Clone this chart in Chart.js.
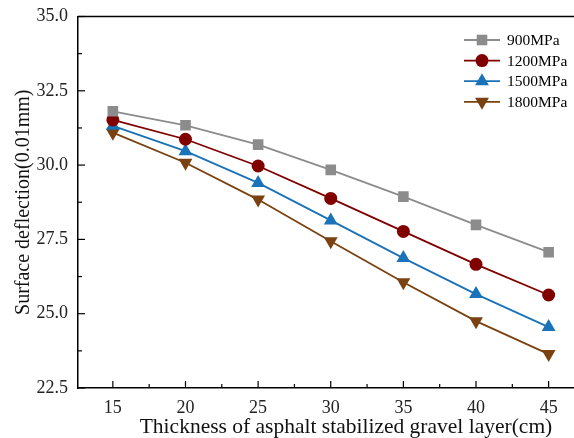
<!DOCTYPE html>
<html>
<head>
<meta charset="utf-8">
<script src="https://cdn.jsdelivr.net/npm/chart.js@4.4.0/dist/chart.umd.min.js"></script>
<style>
  html, body { margin: 0; padding: 0; background: #fff; overflow: hidden; }
  #wrap { width: 574px; height: 438px; overflow: hidden; }
</style>
</head>
<body>
<div id="wrap"><canvas id="chart" width="630" height="438"></canvas></div>
<script>
// Thickness values (cm) and deflection readings per modulus
const thickness = [15, 20, 25, 30, 35, 40, 45];
const seriesNames = ["900MPa", "1200MPa", "1500MPa", "1800MPa"];
const defl900 = [31.81, 31.34, 30.69, 29.84, 28.94, 27.99, 27.07];
const defl1200 = [31.52, 30.87, 29.97, 28.88, 27.77, 26.66, 25.63];
const defl1500 = [31.32, 30.47, 29.40, 28.14, 26.87, 25.66, 24.55];
const defl1800 = [31.09, 30.08, 28.84, 27.44, 26.06, 24.75, 23.64];
const xTicks = [15, 20, 25, 30, 35, 40, 45];
const yTicks = [22.5, 25.0, 27.5, 30.0, 32.5, 35.0];

const colors = ["#8c8c8c", "#800000", "#1a72b8", "#7a4210"];
const styles = [
    { pointStyle: "rect", radius: 7.5, rotation: 0 },
    { pointStyle: "circle", radius: 6.5, rotation: 0 },
    { pointStyle: "triangle", radius: 8, rotation: 0 },
    { pointStyle: "triangle", radius: 8, rotation: 180 }
];
const allData = [defl900, defl1200, defl1500, defl1800];

const datasets = allData.map((vals, i) => ({
    label: seriesNames[i],
    data: vals.map((v, j) => ({ x: thickness[j], y: v })),
    borderColor: colors[i],
    backgroundColor: colors[i],
    borderWidth: 1.8,
    pointStyle: styles[i].pointStyle,
    pointRadius: styles[i].radius,
    pointRotation: styles[i].rotation,
    pointBorderWidth: 0,
    pointHoverRadius: styles[i].radius,
    tension: 0
}));

function midpoints(arr) {
    const out = [];
    for (let i = 0; i < arr.length - 1; i++) out.push((arr[i] + arr[i + 1]) / 2);
    return out;
}

// inward tick marks, major and minor, plus top/right border
const tickPlugin = {
    id: "inwardTicks",
    afterDraw(chart) {
        const ctx = chart.ctx;
        const area = chart.chartArea;
        const xs = chart.scales.x, ys = chart.scales.y;
        ctx.save();
        ctx.strokeStyle = "#000";
        ctx.lineWidth = 1.5;
        ctx.beginPath();
        ctx.moveTo(area.left, area.top);
        ctx.lineTo(area.right, area.top);
        ctx.lineTo(area.right, area.bottom);
        ctx.stroke();
        ctx.lineWidth = 1.2;
        xTicks.forEach(v => {
            const px = xs.getPixelForValue(v);
            ctx.beginPath(); ctx.moveTo(px, area.bottom); ctx.lineTo(px, area.bottom - 7); ctx.stroke();
        });
        midpoints(xTicks).forEach(v => {
            const px = xs.getPixelForValue(v);
            ctx.beginPath(); ctx.moveTo(px, area.bottom); ctx.lineTo(px, area.bottom - 4); ctx.stroke();
        });
        yTicks.forEach(v => {
            const py = ys.getPixelForValue(v);
            ctx.beginPath(); ctx.moveTo(area.left, py); ctx.lineTo(area.left + 7, py); ctx.stroke();
        });
        midpoints(yTicks).forEach(v => {
            const py = ys.getPixelForValue(v);
            ctx.beginPath(); ctx.moveTo(area.left, py); ctx.lineTo(area.left + 4, py); ctx.stroke();
        });
        ctx.restore();
    }
};

// legend with line sample and marker
const legendPlugin = {
    id: "lineLegend",
    afterDraw(chart) {
        const ctx = chart.ctx;
        ctx.save();
        ctx.font = "15.5px 'Liberation Serif', 'Times New Roman', serif";
        ctx.textBaseline = "middle";
        chart.data.datasets.forEach((ds, i) => {
            const y = 40 + i * 20.6;
            ctx.strokeStyle = ds.borderColor;
            ctx.lineWidth = 1.8;
            ctx.beginPath(); ctx.moveTo(464, y); ctx.lineTo(500, y); ctx.stroke();
            ctx.fillStyle = ds.backgroundColor;
            Chart.helpers.drawPoint(ctx, {
                pointStyle: ds.pointStyle,
                radius: ds.pointRadius,
                rotation: ds.pointRotation,
                borderWidth: 0
            }, 482, y);
            ctx.fillStyle = "#000";
            ctx.fillText(ds.label, 507, y + 1);
        });
        ctx.restore();
    }
};

const serif = "'Liberation Serif', 'Times New Roman', serif";

new Chart(document.getElementById("chart"), {
    type: "line",
    data: { datasets: datasets },
    plugins: [tickPlugin, legendPlugin],
    options: {
        responsive: false,
        animation: false,
        layout: { padding: { left: 0, top: 16.5, right: 16, bottom: 0 } },
        plugins: {
            legend: { display: false },
            tooltip: { enabled: false }
        },
        scales: {
            x: {
                type: "linear",
                min: 12.6,
                max: 49.5,
                afterBuildTicks: s => { s.ticks = xTicks.map(v => ({ value: v })); },
                afterFit: s => { s.height = 50; },
                grid: { display: false },
                border: { display: true, color: "#000", width: 1.5 },
                ticks: {
                    color: "#222",
                    font: { family: serif, size: 18 },
                    padding: 1,
                    maxRotation: 0
                },
                title: {
                    display: true,
                    text: "Thickness of asphalt stabilized gravel layer(cm)",
                    color: "#111",
                    font: { family: serif, size: 21.5, lineHeight: 1.0 },
                    padding: { top: 0, bottom: 0 }
                }
            },
            y: {
                min: 22.5,
                max: 35,
                afterBuildTicks: s => { s.ticks = yTicks.map(v => ({ value: v })); },
                afterFit: s => { s.width = 78; },
                grid: { display: false },
                border: { display: true, color: "#000", width: 1.5 },
                ticks: {
                    color: "#222",
                    font: { family: serif, size: 18 },
                    padding: 2,
                    callback: v => v.toFixed(1)
                },
                title: {
                    display: true,
                    text: "Surface deflection(0.01mm)",
                    color: "#111",
                    font: { family: serif, size: 20 },
                    padding: { top: 12, bottom: 0 }
                }
            }
        }
    }
});
</script>
</body>
</html>
